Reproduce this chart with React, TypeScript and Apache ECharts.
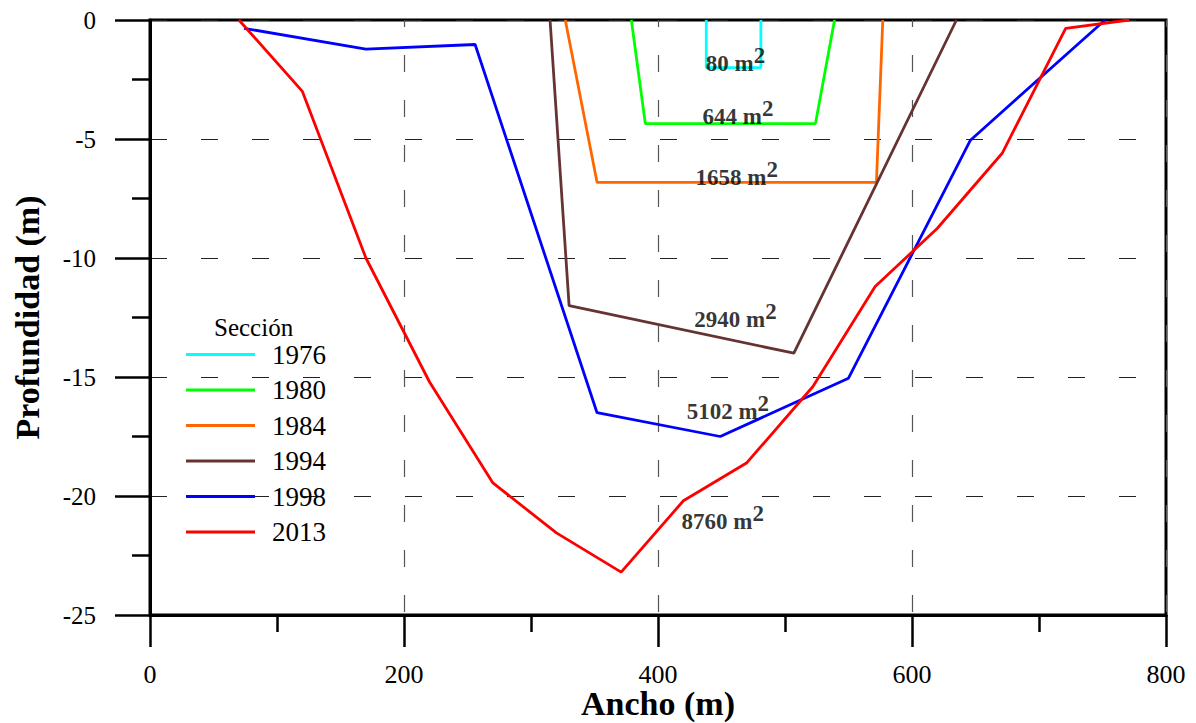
import React, { useEffect, useRef } from "react";
import * as echarts from "echarts";

const years = ["1976", "1980", "1984", "1994", "1998", "2013"];
const colors = ["#00FFFF", "#00FF00", "#FF6600", "#663333", "#0000FF", "#FF0000"];

const s1976: [number, number][] = [[438, 0], [438, -2], [481, -2], [481, 0]];
const s1980: [number, number][] = [[379, 0], [390, -4.35], [524, -4.35], [539, 0]];
const s1984: [number, number][] = [[327, 0], [352, -6.82], [572, -6.82], [577, 0]];
const s1994: [number, number][] = [[315, 0], [330, -12], [507, -14], [635, 0]];
const s1998: [number, number][] = [
  [74, -0.35], [170, -1.22], [256, -1.03], [352, -16.5], [449, -17.5],
  [550, -15.05], [646, -5.05], [752, 0],
];
const s2013: [number, number][] = [
  [70, 0], [120, -3], [170, -10], [220, -15.2], [270, -19.45], [320, -21.55],
  [371, -23.2], [420, -20.2], [470, -18.6], [522, -15.4], [571, -11.2],
  [620, -8.75], [671, -5.6], [721, -0.35], [771, 0],
];
const seriesData = [s1976, s1980, s1984, s1994, s1998, s2013];

const areaText = ["80", "644", "1658", "2940", "5102", "8760"];
const areaX = [461, 463, 462, 461, 455, 451];
const areaY = [-1.68, -3.9, -6.47, -12.4, -16.3, -20.9];

const xTicks = { min: 0, max: 800, interval: 200 };
const yTicks = { min: -25, max: 0, interval: 5 };

const serif = "'Liberation Serif', 'Times New Roman', serif";

export default function App() {
  const ref = useRef<HTMLDivElement>(null);
  useEffect(() => {
    if (!ref.current) return;
    const chart = echarts.init(ref.current, undefined, { renderer: "svg" });
    const lineSeries = years.map((y, i) => ({
      name: y,
      type: "line",
      data: seriesData[i],
      symbol: "none",
      color: colors[i],
      lineStyle: { width: 2.8, color: colors[i] },
      z: 3,
    }));
    const labelSeries = {
      name: "areas",
      type: "scatter",
      symbolSize: 0,
      silent: true,
      z: 5,
      data: areaText.map((t, i) => ({
        value: [areaX[i], areaY[i]],
        label: { formatter: `{a|${t} m}{s|2}` },
      })),
      label: {
        show: true,
        position: "inside",
        color: "#000",
        textBorderWidth: 0,
        rich: {
          a: { fontFamily: serif, fontWeight: "bold", fontSize: 23, color: "#000", lineHeight: 31, verticalAlign: "bottom" },
          s: { fontFamily: serif, fontWeight: "bold", fontSize: 23, color: "#000", lineHeight: 23, verticalAlign: "top" },
        },
      },
    };
    chart.setOption({
      animation: false,
      backgroundColor: "#fff",
      grid: {
        left: 150, right: 30, top: 20, bottom: 108,
        outerBoundsMode: "none",
        containLabel: false,
        show: true, borderColor: "#000", borderWidth: 3, backgroundColor: "transparent",
      },
      legend: {
        data: years,
        orient: "vertical",
        left: 181,
        top: 336,
        icon: "rect",
        itemWidth: 69,
        itemHeight: 3,
        itemGap: 8.5,
        textStyle: { fontFamily: serif, fontSize: 27, lineHeight: 26, color: "#000", padding: [0, 0, 0, 12] },
      },
      graphic: [
        {
          type: "text",
          left: 214,
          top: 315,
          style: { text: "Sección", fontFamily: serif, fontSize: 25, fill: "#000" },
        },
      ],
      xAxis: {
        type: "value",
        min: xTicks.min,
        max: xTicks.max,
        interval: xTicks.interval,
        name: "Ancho (m)",
        nameLocation: "middle",
        nameGap: 71,
        nameMoveOverlap: false,
        nameTextStyle: { fontFamily: serif, fontWeight: "bold", fontSize: 34, lineHeight: 34, color: "#000" },
        axisLine: { show: true, onZero: false, lineStyle: { color: "#000", width: 3 } },
        axisTick: { show: true, inside: false, length: 32, lineStyle: { color: "#000", width: 2.5 } },
        minorTick: { show: true, splitNumber: 2, length: 17, lineStyle: { color: "#000", width: 2.5 } },
        axisLabel: { margin: 49, fontFamily: serif, fontSize: 26, lineHeight: 20, color: "#000" },
        splitLine: { show: true, lineStyle: { color: "#555", width: 1.2, type: [17, 28], dashOffset: 10 } },
      },
      yAxis: {
        type: "value",
        min: yTicks.min,
        max: yTicks.max,
        interval: yTicks.interval,
        name: "Profundidad (m)",
        nameLocation: "middle",
        nameGap: 106,
        nameMoveOverlap: false,
        nameRotate: 90,
        nameTextStyle: { fontFamily: serif, fontWeight: "bold", fontSize: 34, color: "#000" },
        axisLine: { show: true, onZero: false, lineStyle: { color: "#000", width: 3 } },
        axisTick: { show: true, inside: false, length: 35, lineStyle: { color: "#000", width: 2.5 } },
        minorTick: { show: true, splitNumber: 2, length: 18, lineStyle: { color: "#000", width: 2.5 } },
        axisLabel: { margin: 54, fontFamily: serif, fontSize: 25, color: "#000" },
        splitLine: { show: true, lineStyle: { color: "#222", width: 1.2, type: [17, 34], dashOffset: 0 } },
      },
      series: [...lineSeries, labelSeries],
    });
    return () => chart.dispose();
  }, []);
  return (
    <div
      ref={ref}
      style={{ position: "fixed", left: 0, top: 0, width: 1196, height: 723, overflow: "hidden" }}
    />
  );
}
